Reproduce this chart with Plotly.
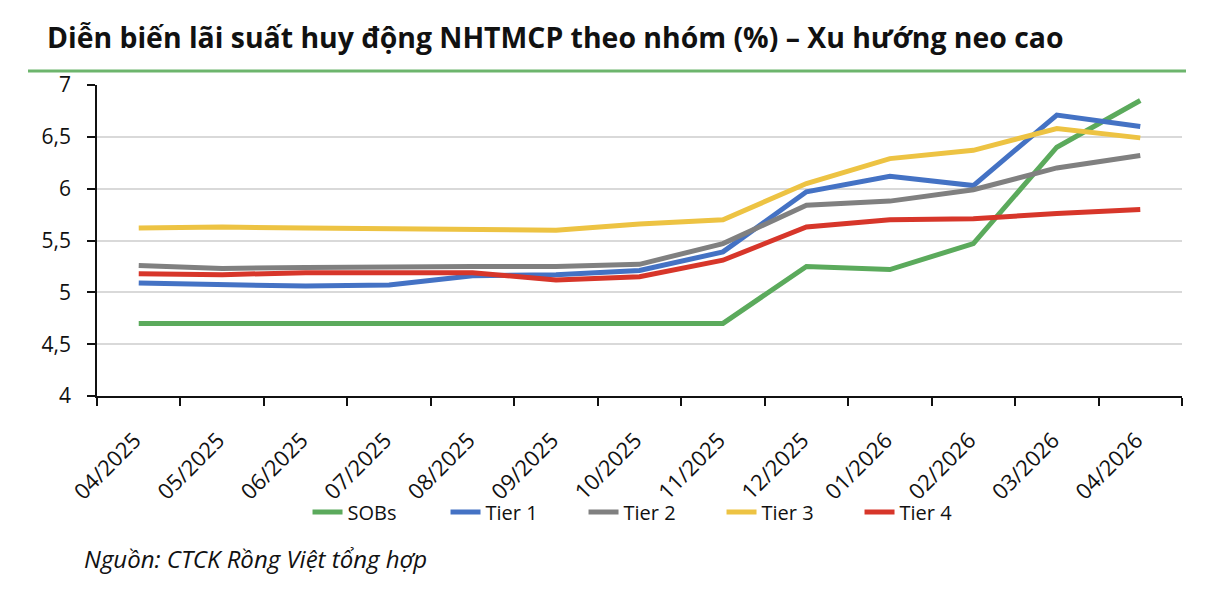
import plotly.graph_objects as go

months = ["04/2025", "05/2025", "06/2025", "07/2025", "08/2025", "09/2025", "10/2025",
          "11/2025", "12/2025", "01/2026", "02/2026", "03/2026", "04/2026"]
sobs = [4.70, 4.70, 4.70, 4.70, 4.70, 4.70, 4.70, 4.70, 5.25, 5.22, 5.47, 6.40, 6.85]
tier1 = [5.09, 5.08, 5.06, 5.07, 5.16, 5.17, 5.21, 5.39, 5.97, 6.12, 6.03, 6.71, 6.60]
tier2 = [5.26, 5.23, 5.24, 5.25, 5.25, 5.25, 5.27, 5.47, 5.84, 5.88, 5.99, 6.20, 6.32]
tier3 = [5.62, 5.63, 5.62, 5.61, 5.60, 5.60, 5.66, 5.70, 6.05, 6.29, 6.37, 6.58, 6.49]
tier4 = [5.18, 5.17, 5.19, 5.19, 5.19, 5.12, 5.15, 5.31, 5.63, 5.70, 5.71, 5.76, 5.80]

series = [
    ("SOBs", sobs, "#5BAA5C"),
    ("Tier 1", tier1, "#4472C4"),
    ("Tier 2", tier2, "#808080"),
    ("Tier 3", tier3, "#EDC343"),
    ("Tier 4", tier4, "#D7362A"),
]

FONT = "Open Sans"

fig = go.Figure()
for name, vals, color in series:
    fig.add_trace(go.Scatter(x=months, y=vals, name=name, mode="lines",
                             line=dict(color=color, width=5)))

fig.update_layout(
    width=1226, height=596,
    margin=dict(l=97, r=44, t=85, b=200),
    paper_bgcolor="white", plot_bgcolor="white",
    separators=",.",
    font=dict(family=FONT, color="#111111", size=20),
    showlegend=True,
    legend=dict(orientation="h", x=0.512, xanchor="center", y=-0.373, yanchor="middle",
                font=dict(size=20, family=FONT), entrywidth=93, entrywidthmode="pixels",
                tracegroupgap=0, bgcolor="rgba(0,0,0,0)"),
    title=dict(text="<b>Diễn biến lãi suất huy động NHTMCP theo nhóm (%) – Xu hướng neo cao</b>",
               xref="container", yref="container", x=47/1226, xanchor="left",
               y=1-38/596, yanchor="middle",
               font=dict(family=FONT, size=28.4, color="#111111")),
)

fig.update_xaxes(
    type="category", showgrid=False, showline=True, linecolor="#111111", linewidth=1.5,
    ticks="outside", tickson="boundaries", ticklen=8, tickcolor="#111111", tickwidth=1.5,
    tickangle=-45, tickfont=dict(size=22, family=FONT), ticklabelstandoff=21,
    ticklabelshift=-4, range=[-0.5, 12.5],
)
fig.update_yaxes(
    range=[4, 7], tickvals=[4, 4.5, 5, 5.5, 6, 6.5, 7], tickformat=".1~f",
    showgrid=True, gridcolor="#D9D9D9", gridwidth=1.5,
    showline=True, linecolor="#111111", linewidth=1.5,
    ticks="outside", ticklen=8, tickcolor="#111111", tickwidth=1.5,
    tickfont=dict(size=21, family=FONT), ticklabelstandoff=12, zeroline=False,
)

# green rule under the title
fig.add_shape(type="line", xref="paper", yref="paper",
              x0=(28-97)/1085, x1=(1186-97)/1085, y0=(396-71)/311, y1=(396-71)/311,
              line=dict(color="#6DB56D", width=3))

fig.add_annotation(text="<i>Nguồn: CTCK Rồng Việt tổng hợp</i>", xref="paper", yref="paper",
                   x=(82-97)/1085, xanchor="left", y=(396-558)/311, yanchor="middle",
                   showarrow=False, font=dict(family=FONT, size=24, color="#111111"))

fig.write_html("out.html")
